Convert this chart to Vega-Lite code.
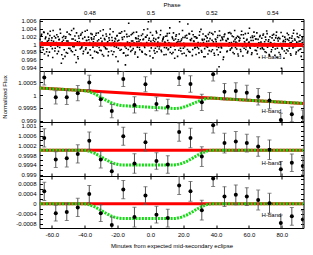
{
"$schema": "https://vega.github.io/schema/vega-lite/v6.json",
"padding": {"left": 0.5, "top": 1, "right": 4, "bottom": 4},
"bounds": "flush",
"spacing": 0,
"config": {
 "font": "Liberation Sans",
 "view": {"stroke": "black", "strokeWidth": 1},
 "axis": {"domain": false, "grid": false, "tickColor": "black", "tickSize": -3, "labelFontSize": 6, "labelColor": "black", "titleFontSize": 6, "titleFontWeight": "normal", "titleColor": "black", "labelPadding": 6.5, "labelFont": "Liberation Sans", "titleFont": "Liberation Sans"}
},
"datasets": {
 "scatter": [
  {"t":-67.2,"f":1.0012},{"t":-66.7,"f":0.9992},{"t":-66.2,"f":1.0025},{"t":-65.7,"f":1.0003},{"t":-65.2,"f":0.9985},{"t":-64.7,"f":1.003},{"t":-64.2,"f":0.9998},{"t":-63.7,"f":1.0018},{"t":-63.2,"f":0.998},{"t":-62.7,"f":1.0007},
  {"t":-62.2,"f":0.997},{"t":-61.7,"f":1.0014},{"t":-61.2,"f":1.0022},{"t":-60.7,"f":0.9995},{"t":-60.2,"f":1.0009},{"t":-59.7,"f":0.9988},{"t":-59.2,"f":1.0035},{"t":-58.7,"f":1.0001},{"t":-58.2,"f":0.9982},{"t":-57.7,"f":1.0016},
  {"t":-57.2,"f":1.0004},{"t":-56.7,"f":0.9975},{"t":-56.2,"f":1.0019},{"t":-55.7,"f":1.0011},{"t":-55.2,"f":0.9991},{"t":-54.7,"f":1.0028},{"t":-54.2,"f":0.995},{"t":-53.7,"f":1.0006},{"t":-53.2,"f":0.9962},{"t":-52.7,"f":1.002},
  {"t":-52.2,"f":0.9997},{"t":-51.7,"f":1.0015},{"t":-51.2,"f":0.9978},{"t":-50.7,"f":1.0031},{"t":-50.2,"f":1.0008},{"t":-49.7,"f":0.9989},{"t":-49.2,"f":1.0002},{"t":-48.7,"f":1.0024},{"t":-48.2,"f":0.9983},{"t":-47.7,"f":1.0013},
  {"t":-47.2,"f":0.9994},{"t":-46.7,"f":1.004},{"t":-46.2,"f":0.9972},{"t":-45.7,"f":1.001},{"t":-45.2,"f":0.9952},{"t":-44.7,"f":0.9999},{"t":-44.2,"f":0.9967},{"t":-43.7,"f":1.0021},{"t":-43.2,"f":1.0005},{"t":-42.7,"f":0.9987},
  {"t":-42.2,"f":1.0026},{"t":-41.7,"f":0.9993},{"t":-41.2,"f":1.0014},{"t":-40.7,"f":0.9981},{"t":-40.2,"f":1.0003},{"t":-39.7,"f":1.0033},{"t":-39.2,"f":0.999},{"t":-38.7,"f":1.0009},{"t":-38.2,"f":0.9976},{"t":-37.7,"f":1.0018},
  {"t":-37.2,"f":1.0},{"t":-36.7,"f":0.9985},{"t":-36.2,"f":1.0027},{"t":-35.7,"f":1.0012},{"t":-35.2,"f":0.9964},{"t":-34.7,"f":1.0006},{"t":-34.2,"f":1.0019},{"t":-33.7,"f":0.9996},{"t":-33.2,"f":1.0023},{"t":-32.7,"f":0.9979},
  {"t":-32.2,"f":1.0008},{"t":-31.7,"f":1.0029},{"t":-31.2,"f":0.9991},{"t":-30.7,"f":0.9984},{"t":-30.2,"f":1.0015},{"t":-29.7,"f":1.0002},{"t":-29.2,"f":0.9973},{"t":-28.7,"f":1.0037},{"t":-28.2,"f":0.9994},{"t":-27.7,"f":1.0011},
  {"t":-27.2,"f":0.9988},{"t":-26.7,"f":1.002},{"t":-26.2,"f":1.0004},{"t":-25.7,"f":0.997},{"t":-25.2,"f":1.0016},{"t":-24.7,"f":1.0025},{"t":-24.2,"f":0.9997},{"t":-23.7,"f":0.9982},{"t":-23.2,"f":1.0009},{"t":-22.7,"f":1.0032},
  {"t":-22.2,"f":0.998},{"t":-21.7,"f":1.0007},{"t":-21.2,"f":1.0013},{"t":-20.7,"f":0.9992},{"t":-20.2,"f":1.0022},{"t":-19.7,"f":0.9955},{"t":-19.2,"f":1.001},{"t":-18.7,"f":1.0001},{"t":-18.2,"f":1.0028},{"t":-17.7,"f":0.9986},
  {"t":-17.2,"f":1.0017},{"t":-16.7,"f":0.9998},{"t":-16.2,"f":0.9977},{"t":-15.7,"f":1.0034},{"t":-15.2,"f":0.9946},{"t":-14.7,"f":0.9989},{"t":-14.2,"f":1.0019},{"t":-13.7,"f":0.9971},{"t":-13.2,"f":1.0054},{"t":-12.7,"f":1.0003},
  {"t":-12.2,"f":0.9993},{"t":-11.7,"f":1.0024},{"t":-11.2,"f":0.9984},{"t":-10.7,"f":1.0008},{"t":-10.2,"f":1.003},{"t":-9.7,"f":0.9999},{"t":-9.2,"f":0.9979},{"t":-8.7,"f":1.0014},{"t":-8.2,"f":1.0006},{"t":-7.7,"f":0.9966},
  {"t":-7.2,"f":1.0021},{"t":-6.7,"f":0.9991},{"t":-6.2,"f":1.0011},{"t":-5.7,"f":1.0002},{"t":-5.2,"f":0.9981},{"t":-4.7,"f":1.0026},{"t":-4.2,"f":1.0013},{"t":-3.7,"f":0.9995},{"t":-3.2,"f":0.9974},{"t":-2.7,"f":1.0018},
  {"t":-2.2,"f":1.0004},{"t":-1.7,"f":1.0039},{"t":-1.2,"f":1.0058},{"t":-0.7,"f":1.0015},{"t":-0.2,"f":0.9969},{"t":0.3,"f":1.0007},{"t":0.8,"f":0.9997},{"t":1.3,"f":1.0023},{"t":1.8,"f":1.001},{"t":2.3,"f":0.9983},
  {"t":2.8,"f":0.9976},{"t":3.3,"f":1.0012},{"t":3.8,"f":1.0029},{"t":4.3,"f":0.9994},{"t":4.8,"f":1.0016},{"t":5.3,"f":0.9987},{"t":5.8,"f":1.0001},{"t":6.3,"f":1.0035},{"t":6.8,"f":0.998},{"t":7.3,"f":1.0008},
  {"t":7.8,"f":1.0014},{"t":8.3,"f":0.9972},{"t":8.8,"f":1.0005},{"t":9.3,"f":1.002},{"t":9.8,"f":0.999},{"t":10.3,"f":1.0027},{"t":10.8,"f":0.9985},{"t":11.3,"f":1.0003},{"t":11.8,"f":1.0042},{"t":12.3,"f":0.9992},
  {"t":12.8,"f":0.9999},{"t":13.3,"f":1.0018},{"t":13.8,"f":0.9978},{"t":14.3,"f":1.001},{"t":14.8,"f":0.9963},{"t":15.3,"f":1.0013},{"t":15.8,"f":1.0024},{"t":16.3,"f":0.9996},{"t":16.8,"f":1.0006},{"t":17.3,"f":0.9984},
  {"t":17.8,"f":1.0058},{"t":18.3,"f":0.9989},{"t":18.8,"f":1.0009},{"t":19.3,"f":0.9975},{"t":19.8,"f":1.0017},{"t":20.3,"f":1.0002},{"t":20.8,"f":0.9993},{"t":21.3,"f":1.0021},{"t":21.8,"f":0.997},{"t":22.3,"f":1.0015},
  {"t":22.8,"f":1.0052},{"t":23.3,"f":0.9981},{"t":23.8,"f":1.0026},{"t":24.3,"f":1.0011},{"t":24.8,"f":0.9997},{"t":25.3,"f":1.0033},{"t":25.8,"f":0.9986},{"t":26.3,"f":1.0008},{"t":26.8,"f":1.0019},{"t":27.3,"f":0.9991},
  {"t":27.8,"f":0.9973},{"t":28.3,"f":1.0016},{"t":28.8,"f":1.0001},{"t":29.3,"f":0.9988},{"t":29.8,"f":1.0023},{"t":30.3,"f":0.9995},{"t":30.8,"f":1.0038},{"t":31.3,"f":0.9979},{"t":31.8,"f":1.001},{"t":32.3,"f":1.0004},
  {"t":32.8,"f":1.0012},{"t":33.3,"f":0.9967},{"t":33.8,"f":1.002},{"t":34.3,"f":1.0007},{"t":34.8,"f":0.9992},{"t":35.3,"f":1.0025},{"t":35.8,"f":0.9983},{"t":36.3,"f":1.0014},{"t":36.8,"f":0.9998},{"t":37.3,"f":1.0028},
  {"t":37.8,"f":0.9985},{"t":38.3,"f":1.0006},{"t":38.8,"f":0.9976},{"t":39.3,"f":1.0032},{"t":39.8,"f":1.0011},{"t":40.3,"f":0.9994},{"t":40.8,"f":1.0017},{"t":41.3,"f":0.9972},{"t":41.8,"f":0.9941},{"t":42.3,"f":1.0022},
  {"t":42.8,"f":1.0009},{"t":43.3,"f":0.999},{"t":43.8,"f":1.0014},{"t":44.3,"f":0.996},{"t":44.8,"f":1.0019},{"t":45.3,"f":1.0026},{"t":45.8,"f":0.9997},{"t":46.3,"f":1.0008},{"t":46.8,"f":0.9982},{"t":47.3,"f":1.0013},
  {"t":47.8,"f":0.9995},{"t":48.3,"f":1.003},{"t":48.8,"f":0.9987},{"t":49.3,"f":1.0004},{"t":49.8,"f":1.0021},{"t":50.3,"f":0.9978},{"t":50.8,"f":1.0007},{"t":51.3,"f":1.0035},{"t":51.8,"f":0.9991},{"t":52.3,"f":1.0016},
  {"t":52.8,"f":1.0002},{"t":53.3,"f":0.9974},{"t":53.8,"f":1.0018},{"t":54.3,"f":1.001},{"t":54.8,"f":0.9986},{"t":55.3,"f":1.0024},{"t":55.8,"f":0.9999},{"t":56.3,"f":0.9969},{"t":56.8,"f":1.0015},{"t":57.3,"f":1.0006},
  {"t":57.8,"f":1.0027},{"t":58.3,"f":0.9993},{"t":58.8,"f":1.0012},{"t":59.3,"f":0.9981},{"t":59.8,"f":1.0003},{"t":60.3,"f":1.0041},{"t":60.8,"f":0.9989},{"t":61.3,"f":1.0009},{"t":61.8,"f":0.9977},{"t":62.3,"f":1.0017},
  {"t":62.8,"f":0.9996},{"t":63.3,"f":1.002},{"t":63.8,"f":0.9984},{"t":64.3,"f":1.0013},{"t":64.8,"f":1.0029},{"t":65.3,"f":0.9991},{"t":65.8,"f":1.0001},{"t":66.3,"f":0.9965},{"t":66.8,"f":1.0022},{"t":67.3,"f":1.0005},
  {"t":67.8,"f":1.0015},{"t":68.3,"f":0.9988},{"t":68.8,"f":1.0026},{"t":69.3,"f":0.9998},{"t":69.8,"f":0.998},{"t":70.3,"f":1.0011},{"t":70.8,"f":1.0034},{"t":71.3,"f":0.9992},{"t":71.8,"f":1.0007},{"t":72.3,"f":0.9973},
  {"t":72.8,"f":1.0019},{"t":73.3,"f":1.0003},{"t":73.8,"f":0.9985},{"t":74.3,"f":1.0023},{"t":74.8,"f":0.9994},{"t":75.3,"f":1.001},{"t":75.8,"f":0.9971},{"t":76.3,"f":1.0016},{"t":76.8,"f":1.0031},{"t":77.3,"f":0.9989},
  {"t":77.8,"f":1.0008},{"t":78.3,"f":0.9978},{"t":78.8,"f":1.0014},{"t":79.3,"f":1.0001},{"t":79.8,"f":0.9937},{"t":80.3,"f":0.9987},{"t":80.8,"f":1.0006},{"t":81.3,"f":0.9963},{"t":81.8,"f":1.0018},{"t":82.3,"f":1.0012},
  {"t":82.8,"f":0.9997},{"t":83.3,"f":1.0028},{"t":83.8,"f":0.9982},{"t":84.3,"f":1.0009},{"t":84.8,"f":1.0016},{"t":85.3,"f":0.9975},{"t":85.8,"f":1.0004},{"t":86.3,"f":1.0021},{"t":86.8,"f":0.999},{"t":87.3,"f":1.0036},
  {"t":87.8,"f":1.0013},{"t":88.3,"f":0.9994},{"t":88.8,"f":0.9979},{"t":89.3,"f":1.0027},{"t":89.8,"f":1.0002},{"t":90.3,"f":1.0017},{"t":90.8,"f":0.9986},{"t":91.3,"f":1.0008},{"t":91.8,"f":0.9968},{"t":92.3,"f":1.0011},
  {"t":92.8,"f":1.0004},
  {"t":-66.95,"f":0.9982},{"t":-66.45,"f":1.0022},{"t":-65.95,"f":1.0005},{"t":-65.45,"f":0.9991},{"t":-64.95,"f":1.0031},{"t":-64.45,"f":0.9974},{"t":-63.95,"f":1.0014},{"t":-63.45,"f":1.0002},{"t":-62.95,"f":0.9987},{"t":-62.45,"f":1.0027},
  {"t":-61.95,"f":1.0009},{"t":-61.45,"f":0.9979},{"t":-60.95,"f":1.0033},{"t":-60.45,"f":0.9996},{"t":-59.95,"f":1.0016},{"t":-59.45,"f":0.9965},{"t":-58.95,"f":1.0007},{"t":-58.45,"f":1.002},{"t":-57.95,"f":0.9989},{"t":-57.45,"f":1.0003},
  {"t":-56.95,"f":1.0024},{"t":-56.45,"f":0.9994},{"t":-55.95,"f":0.9981},{"t":-55.45,"f":1.0012},{"t":-54.95,"f":1.0038},{"t":-54.45,"f":0.9998},{"t":-53.95,"f":0.9972},{"t":-53.45,"f":1.0017},{"t":-52.95,"f":1.001},{"t":-52.45,"f":0.9985},
  {"t":-51.95,"f":0.9968},{"t":-51.45,"f":1.0019},{"t":-50.95,"f":1.0008},{"t":-50.45,"f":0.9976},{"t":-49.95,"f":1.0004},{"t":-49.45,"f":1.0026},{"t":-48.95,"f":0.9988},{"t":-48.45,"f":0.9999},{"t":-47.95,"f":1.0035},{"t":-47.45,"f":0.998},
  {"t":-46.95,"f":1.0013},{"t":-46.45,"f":0.9993},{"t":-45.95,"f":1.0021},{"t":-45.45,"f":0.9984},{"t":-44.95,"f":1.0029},{"t":-44.45,"f":1.0006},{"t":-43.95,"f":0.9962},{"t":-43.45,"f":1.0015},{"t":-42.95,"f":0.9997},{"t":-42.45,"f":1.0023},
  {"t":-41.95,"f":0.999},{"t":-41.45,"f":1.003},{"t":-40.95,"f":0.9975},{"t":-40.45,"f":1.0001},{"t":-39.95,"f":1.0018},{"t":-39.45,"f":0.9986},{"t":-38.95,"f":1.0009},{"t":-38.45,"f":1.0036},{"t":-37.95,"f":0.9978},{"t":-37.45,"f":1.0011},
  {"t":-36.95,"f":1.0004},{"t":-36.45,"f":0.9971},{"t":-35.95,"f":1.0016},{"t":-35.45,"f":1.0025},{"t":-34.95,"f":0.9992},{"t":-34.45,"f":1.0013},{"t":-33.95,"f":0.9981},{"t":-33.45,"f":1.0002},{"t":-32.95,"f":1.0028},{"t":-32.45,"f":0.9995},
  {"t":-31.95,"f":0.9977},{"t":-31.45,"f":1.0011},{"t":-30.95,"f":0.9998},{"t":-30.45,"f":1.0034},{"t":-29.95,"f":0.9983},{"t":-29.45,"f":1.0007},{"t":-28.95,"f":1.0022},{"t":-28.45,"f":0.9969},{"t":-27.95,"f":1.0014},{"t":-27.45,"f":0.9991},
  {"t":-26.95,"f":1.0026},{"t":-26.45,"f":0.9987},{"t":-25.95,"f":1.0006},{"t":-25.45,"f":0.998},{"t":-24.95,"f":1.001},{"t":-24.45,"f":1.0039},{"t":-23.95,"f":0.9996},{"t":-23.45,"f":1.0017},{"t":-22.95,"f":0.9973},{"t":-22.45,"f":1.0003},
  {"t":-21.95,"f":0.9994},{"t":-21.45,"f":1.0015},{"t":-20.95,"f":0.9967},{"t":-20.45,"f":1.0021},{"t":-19.95,"f":1.0008},{"t":-19.45,"f":0.9989},{"t":-18.95,"f":1.0028},{"t":-18.45,"f":0.9984},{"t":-17.95,"f":1.0001},{"t":-17.45,"f":1.0032},
  {"t":-16.95,"f":1.0012},{"t":-16.45,"f":0.9976},{"t":-15.95,"f":1.0019},{"t":-15.45,"f":0.9993},{"t":-14.95,"f":0.997},{"t":-14.45,"f":1.0025},{"t":-13.95,"f":1.0005},{"t":-13.45,"f":0.9986},{"t":-12.95,"f":1.002},{"t":-12.45,"f":0.9999},
  {"t":-11.95,"f":0.9981},{"t":-11.45,"f":1.0008},{"t":-10.95,"f":1.0027},{"t":-10.45,"f":0.9988},{"t":-9.95,"f":1.0003},{"t":-9.45,"f":0.9974},{"t":-8.95,"f":1.0016},{"t":-8.45,"f":1.0031},{"t":-7.95,"f":0.9992},{"t":-7.45,"f":1.0014},
  {"t":-6.95,"f":1.0007},{"t":-6.45,"f":0.9985},{"t":-5.95,"f":0.9997},{"t":-5.45,"f":1.0022},{"t":-4.95,"f":0.9979},{"t":-4.45,"f":1.0011},{"t":-3.95,"f":1.0037},{"t":-3.45,"f":0.9991},{"t":-2.95,"f":1.0018},{"t":-2.45,"f":0.9972},
  {"t":-1.95,"f":1.0023},{"t":-1.45,"f":0.9996},{"t":-0.95,"f":1.001},{"t":-0.45,"f":0.9982},{"t":0.05,"f":1.003},{"t":0.55,"f":0.999},{"t":1.05,"f":1.0002},{"t":1.55,"f":0.9964},{"t":2.05,"f":1.0015},{"t":2.55,"f":1.0006},
  {"t":3.05,"f":0.9989},{"t":3.55,"f":1.0033},{"t":4.05,"f":0.998},{"t":4.55,"f":1.0005},{"t":5.05,"f":1.0017},{"t":5.55,"f":0.9993},{"t":6.05,"f":1.0024},{"t":6.55,"f":0.9984},{"t":7.05,"f":0.9998},{"t":7.55,"f":1.0012},
  {"t":8.05,"f":1.0018},{"t":8.55,"f":0.9991},{"t":9.05,"f":1.0003},{"t":9.55,"f":0.9973},{"t":10.05,"f":1.0021},{"t":10.55,"f":1.0009},{"t":11.05,"f":0.9987},{"t":11.55,"f":1.0028},{"t":12.05,"f":0.9978},{"t":12.55,"f":1.0001},
  {"t":13.05,"f":0.9975},{"t":13.55,"f":1.0014},{"t":14.05,"f":1.0029},{"t":14.55,"f":0.9995},{"t":15.05,"f":0.9985},{"t":15.55,"f":1.002},{"t":16.05,"f":1.0004},{"t":16.55,"f":0.9968},{"t":17.05,"f":1.0011},{"t":17.55,"f":1.0026},
  {"t":18.05,"f":1.0006},{"t":18.55,"f":0.9982},{"t":19.05,"f":1.0013},{"t":19.55,"f":1.0035},{"t":20.05,"f":0.9989},{"t":20.55,"f":0.9976},{"t":21.05,"f":1.0017},{"t":21.55,"f":1.0},{"t":22.05,"f":1.0023},{"t":22.55,"f":0.9986},
  {"t":23.05,"f":0.9997},{"t":23.55,"f":1.0027},{"t":24.05,"f":0.9979},{"t":24.55,"f":1.0009},{"t":25.05,"f":1.0014},{"t":25.55,"f":0.997},{"t":26.05,"f":1.0024},{"t":26.55,"f":1.0007},{"t":27.05,"f":0.999},{"t":27.55,"f":1.0019},
  {"t":28.05,"f":1.0015},{"t":28.55,"f":0.9992},{"t":29.05,"f":1.0004},{"t":29.55,"f":0.9977},{"t":30.05,"f":1.0032},{"t":30.55,"f":1.0002},{"t":31.05,"f":0.9983},{"t":31.55,"f":1.0012},{"t":32.05,"f":1.0026},{"t":32.55,"f":0.9967},
  {"t":33.05,"f":0.9988},{"t":33.55,"f":1.0021},{"t":34.05,"f":0.9994},{"t":34.55,"f":1.0016},{"t":35.05,"f":0.9974},{"t":35.55,"f":1.0008},{"t":36.05,"f":1.003},{"t":36.55,"f":0.9996},{"t":37.05,"f":0.9981},{"t":37.55,"f":1.001},
  {"t":38.05,"f":1.0025},{"t":38.55,"f":1.0001},{"t":39.05,"f":0.9971},{"t":39.55,"f":1.0013},{"t":40.05,"f":1.0006},{"t":40.55,"f":0.9985},{"t":41.05,"f":1.0022},{"t":41.55,"f":0.9991},{"t":42.05,"f":1.0034},{"t":42.55,"f":0.9979},
  {"t":43.05,"f":0.9993},{"t":43.55,"f":1.0018},{"t":44.05,"f":1.0011},{"t":44.55,"f":0.9966},{"t":45.05,"f":1.0024},{"t":45.55,"f":0.9997},{"t":46.05,"f":1.0009},{"t":46.55,"f":0.998},{"t":47.05,"f":1.0014},{"t":47.55,"f":1.0029},
  {"t":48.05,"f":1.0003},{"t":48.55,"f":0.9984},{"t":49.05,"f":1.0027},{"t":49.55,"f":0.999},{"t":50.05,"f":0.9998},{"t":50.55,"f":1.0019},{"t":51.05,"f":0.9975},{"t":51.55,"f":1.0012},{"t":52.05,"f":1.0005},{"t":52.55,"f":0.9987},
  {"t":53.05,"f":1.002},{"t":53.55,"f":0.9969},{"t":54.05,"f":1.0008},{"t":54.55,"f":1.0015},{"t":55.05,"f":0.9981},{"t":55.55,"f":1.0033},{"t":56.05,"f":0.9994},{"t":56.55,"f":1.0024},{"t":57.05,"f":0.9989},{"t":57.55,"f":1.0002},
  {"t":58.05,"f":0.9986},{"t":58.55,"f":1.001},{"t":59.05,"f":0.9977},{"t":59.55,"f":1.0028},{"t":60.05,"f":1.0005},{"t":60.55,"f":0.9992},{"t":61.05,"f":1.0017},{"t":61.55,"f":0.9973},{"t":62.05,"f":1.0021},{"t":62.55,"f":1.0009},
  {"t":63.05,"f":1.0031},{"t":63.55,"f":0.9995},{"t":64.05,"f":1.0013},{"t":64.55,"f":0.9983},{"t":65.05,"f":0.9974},{"t":65.55,"f":1.0012},{"t":66.05,"f":1.0003},{"t":66.55,"f":1.0019},{"t":67.05,"f":0.9988},{"t":67.55,"f":0.9999},
  {"t":68.05,"f":0.9991},{"t":68.55,"f":1.0023},{"t":69.05,"f":0.9986},{"t":69.55,"f":1.0006},{"t":70.05,"f":1.0018},{"t":70.55,"f":0.9978},{"t":71.05,"f":1.0027},{"t":71.55,"f":0.9997},{"t":72.05,"f":1.0011},{"t":72.55,"f":0.997},
  {"t":73.05,"f":1.0004},{"t":73.55,"f":0.998},{"t":74.05,"f":1.0016},{"t":74.55,"f":0.9992},{"t":75.05,"f":1.0025},{"t":75.55,"f":1.0001},{"t":76.05,"f":0.9987},{"t":76.55,"f":1.0022},{"t":77.05,"f":0.9965},{"t":77.55,"f":1.0014},
  {"t":78.05,"f":1.0017},{"t":78.55,"f":0.9998},{"t":79.05,"f":0.9973},{"t":79.55,"f":1.003},{"t":80.05,"f":0.999},{"t":80.55,"f":1.002},{"t":81.05,"f":1.0009},{"t":81.55,"f":0.9982},{"t":82.05,"f":1.0006},{"t":82.55,"f":0.9976},
  {"t":83.05,"f":0.9985},{"t":83.55,"f":1.0012},{"t":84.05,"f":1.0024},{"t":84.55,"f":0.9989},{"t":85.05,"f":1.0003},{"t":85.55,"f":0.9971},{"t":86.05,"f":1.0015},{"t":86.55,"f":1.0008},{"t":87.05,"f":1.0028},{"t":87.55,"f":0.9994},
  {"t":88.05,"f":1.001},{"t":88.55,"f":0.9974},{"t":89.05,"f":1.0005},{"t":89.55,"f":1.0019},{"t":90.05,"f":0.9983},{"t":90.55,"f":1.0007},{"t":91.05,"f":1.0023},{"t":91.55,"f":0.9987},{"t":92.05,"f":1.0002},{"t":92.55,"f":1.0016},
  {"t":93.05,"f":0.9993}
 ],
 "red1": [{"t":-67.5,"v":1.0},{"t":93.2,"v":0.99975}],
 "red2": [{"t":-67.5,"v":1.00028},{"t":93.2,"v":0.99968}],
 "red3": [{"t":-67.5,"v":1.0},{"t":93.2,"v":1.0}],
 "red4": [{"t":-67.5,"v":0.0},{"t":93.2,"v":0.0}],
 "g2": [{"t":-67.5,"v":1.00028},{"t":-40,"v":1.00018},{"t":-37,"v":1.00014},{"t":-34,"v":1.00006},{"t":-31,"v":0.99995},{"t":-28,"v":0.99984},{"t":-25,"v":0.99974},{"t":-22,"v":0.99966},{"t":-19,"v":0.99961},{"t":-17,"v":0.99959},{"t":14,"v":0.99948},{"t":16,"v":0.99948},{"t":19,"v":0.99951},{"t":22,"v":0.99957},{"t":25,"v":0.99965},{"t":28,"v":0.99973},{"t":31,"v":0.99981},{"t":34,"v":0.99987},{"t":37,"v":0.99989},{"t":93.2,"v":0.99968}],
 "g3": [{"t":-67.5,"v":1.0},{"t":-40,"v":1.0},{"t":-37,"v":0.99996},{"t":-34,"v":0.99988},{"t":-31,"v":0.99977},{"t":-28,"v":0.99965},{"t":-25,"v":0.99954},{"t":-22,"v":0.99946},{"t":-19,"v":0.99941},{"t":-17,"v":0.9994},{"t":14,"v":0.9994},{"t":16,"v":0.99941},{"t":19,"v":0.99946},{"t":22,"v":0.99954},{"t":25,"v":0.99965},{"t":28,"v":0.99977},{"t":31,"v":0.99988},{"t":34,"v":0.99996},{"t":37,"v":1.0},{"t":93.2,"v":1.0}],
 "g4": [{"t":-67.5,"v":0},{"t":-40,"v":0},{"t":-37,"v":-0.00004},{"t":-34,"v":-0.00012},{"t":-31,"v":-0.00023},{"t":-28,"v":-0.00035},{"t":-25,"v":-0.00046},{"t":-22,"v":-0.00054},{"t":-19,"v":-0.00059},{"t":-17,"v":-0.0006},{"t":14,"v":-0.0006},{"t":16,"v":-0.00059},{"t":19,"v":-0.00054},{"t":22,"v":-0.00046},{"t":25,"v":-0.00035},{"t":28,"v":-0.00023},{"t":31,"v":-0.00012},{"t":34,"v":-0.00004},{"t":37,"v":0},{"t":93.2,"v":0}],
 "p2": [
  {"t":-64.6,"v":1.0007,"e":0.0003},{"t":-57.6,"v":0.99992,"e":0.00026},{"t":-50.9,"v":0.99992,"e":0.00028},{"t":-44.2,"v":1.00008,"e":0.0003},{"t":-37.2,"v":1.0005,"e":0.00028},{"t":-30.2,"v":0.99984,"e":0.00027},{"t":-23.5,"v":0.99938,"e":0.00026},{"t":-16.5,"v":1.00064,"e":0.0003},{"t":-9.7,"v":0.99962,"e":0.00032},{"t":-3.0,"v":1.00043,"e":0.00029},{"t":3.7,"v":0.99966,"e":0.00027},{"t":10.6,"v":0.99955,"e":0.00029},
  {"t":17.5,"v":1.00068,"e":0.0003},{"t":24.4,"v":1.00044,"e":0.00032},{"t":31.3,"v":0.99972,"e":0.00032},{"t":38.2,"v":1.00082,"e":0.00026},{"t":45.1,"v":1.00014,"e":0.00032},{"t":52.0,"v":1.00017,"e":0.00032},{"t":58.7,"v":1.0001,"e":0.00029},{"t":65.6,"v":0.99994,"e":0.00032},{"t":72.5,"v":0.99979,"e":0.00032},{"t":79.4,"v":0.99903,"e":0.00026},{"t":86.1,"v":0.99925,"e":0.00029},{"t":92.8,"v":0.99913,"e":0.00029}
 ],
 "p3": [
  {"t":-64.6,"v":1.0005,"e":0.00037},{"t":-57.6,"v":0.99962,"e":0.00032},{"t":-50.9,"v":0.99967,"e":0.00035},{"t":-44.2,"v":0.99985,"e":0.00037},{"t":-37.2,"v":1.00039,"e":0.00035},{"t":-30.2,"v":0.99962,"e":0.00034},{"t":-23.5,"v":0.99914,"e":0.00032},{"t":-16.5,"v":1.00057,"e":0.00037},{"t":-9.7,"v":0.99946,"e":0.0004},{"t":-3.0,"v":1.00033,"e":0.00036},{"t":3.7,"v":0.99956,"e":0.00034},{"t":10.6,"v":0.99942,"e":0.00036},
  {"t":17.5,"v":1.00074,"e":0.00037},{"t":24.4,"v":1.0005,"e":0.0004},{"t":31.3,"v":0.99974,"e":0.0004},{"t":38.2,"v":1.00102,"e":0.00032},{"t":45.1,"v":1.00029,"e":0.0004},{"t":52.0,"v":1.00036,"e":0.0004},{"t":58.7,"v":1.00029,"e":0.00036},{"t":65.6,"v":1.00015,"e":0.0004},{"t":72.5,"v":1.00002,"e":0.0004},{"t":79.4,"v":0.99922,"e":0.00032},{"t":86.1,"v":0.99949,"e":0.00036},{"t":92.8,"v":0.99936,"e":0.00036}
 ],
 "p4": [
  {"t":-64.6,"v":0.0005,"e":0.00037},{"t":-57.6,"v":-0.00038,"e":0.00032},{"t":-50.9,"v":-0.00033,"e":0.00035},{"t":-44.2,"v":-0.00015,"e":0.00037},{"t":-37.2,"v":0.00039,"e":0.00035},{"t":-30.2,"v":-0.00038,"e":0.00034},{"t":-23.5,"v":-0.00086,"e":0.00032},{"t":-16.5,"v":0.00057,"e":0.00037},{"t":-9.7,"v":-0.00054,"e":0.0004},{"t":-3.0,"v":0.00033,"e":0.00036},{"t":3.7,"v":-0.00044,"e":0.00034},{"t":10.6,"v":-0.00058,"e":0.00036},
  {"t":17.5,"v":0.00074,"e":0.00037},{"t":24.4,"v":0.0005,"e":0.0004},{"t":31.3,"v":-0.00026,"e":0.0004},{"t":38.2,"v":0.00102,"e":0.00032},{"t":45.1,"v":0.00029,"e":0.0004},{"t":52.0,"v":0.00036,"e":0.0004},{"t":58.7,"v":0.00029,"e":0.00036},{"t":65.6,"v":0.00015,"e":0.0004},{"t":72.5,"v":0.00002,"e":0.0004},{"t":79.4,"v":-0.00078,"e":0.00032},{"t":86.1,"v":-0.00051,"e":0.00036},{"t":92.8,"v":-0.00064,"e":0.00036}
 ],
 "lab": [{"panel":1,"t":73.7,"v":0.99656,"s":"H-band"},{"panel":2,"t":73.7,"v":0.99939,"s":"H-band"},{"panel":3,"t":73.7,"v":0.99947,"s":"H-band"},{"panel":4,"t":73.7,"v":-0.00046,"s":"H-band"}]
},
"resolve": {"scale": {"x": "independent", "y": "independent"}},
"vconcat": [
 {
  "width": 264, "height": 52,
  "resolve": {"scale": {"x": "independent"}},
  "layer": [
   {
    "resolve": {"axis": {"x": "independent", "y": "independent"}},
    "layer": [
     {"data": {"name": "scatter"}, "mark": {"type": "square", "filled": true, "color": "black", "size": 2.5, "opacity": 1, "clip": true},
      "encoding": {
       "x": {"field": "t", "type": "quantitative", "scale": {"domain": [-67.5, 93.2], "nice": false, "zero": false}, "axis": {"orient": "bottom", "values": [-60,-40,-20,0,20,40,60,80], "labels": false, "title": null}},
       "y": {"field": "f", "type": "quantitative", "scale": {"domain": [0.993, 1.0065], "nice": false, "zero": false}, "axis": {"orient": "left", "values": [0.994,0.996,0.998,1,1.002,1.004,1.006], "format": "~g", "title": null}}
      }},
     {"data": {"name": "red1"}, "mark": {"type": "line", "color": "#ff0000", "strokeWidth": 4, "clip": true},
      "encoding": {
       "x": {"field": "t", "type": "quantitative", "scale": {"domain": [-67.5, 93.2], "nice": false, "zero": false}, "axis": null},
       "y": {"field": "v", "type": "quantitative", "scale": {"domain": [0.993, 1.0065], "nice": false, "zero": false}, "axis": null}
      }},
     {"data": {"name": "lab"}, "transform": [{"filter": "datum.panel == 1"}], "mark": {"type": "text", "fontSize": 6, "color": "black", "font": "Liberation Sans"},
      "encoding": {
       "x": {"field": "t", "type": "quantitative", "scale": {"domain": [-67.5, 93.2], "nice": false, "zero": false}, "axis": null},
       "y": {"field": "v", "type": "quantitative", "scale": {"domain": [0.993, 1.0065], "nice": false, "zero": false}, "axis": null},
       "text": {"field": "s"}
      }},
     {"data": {"name": "red1"}, "mark": {"type": "line", "opacity": 0},
      "encoding": {
       "x": {"field": "t", "type": "quantitative", "scale": {"domain": [-67.5, 93.2], "nice": false, "zero": false}, "axis": null},
       "y": {"field": "v", "type": "quantitative", "scale": {"domain": [0.993, 1.0065], "nice": false, "zero": false}, "axis": {"orient": "right", "values": [0.994,0.996,0.998,1,1.002,1.004,1.006], "labels": false, "title": null}}
      }}
    ]
   },
   {"data": {"values": [{"ph": 0.5}]}, "mark": {"type": "point", "opacity": 0},
    "encoding": {
     "x": {"field": "ph", "type": "quantitative", "scale": {"domain": [0.46364, 0.55021], "nice": false, "zero": false}, "axis": {"orient": "top", "values": [0.48, 0.5, 0.52, 0.54], "format": "~g", "title": "Phase", "titlePadding": 2}}
    }}
  ]
 },
 {
  "width": 264, "height": 51,
  "resolve": {"axis": {"x": "independent", "y": "independent"}},
  "layer": [
   {"data": {"name": "red2"}, "mark": {"type": "line", "color": "#ff0000", "strokeWidth": 3, "clip": true},
    "encoding": {
     "x": {"field": "t", "type": "quantitative", "scale": {"domain": [-67.5, 93.2], "nice": false, "zero": false}, "axis": {"orient": "bottom", "values": [-60,-40,-20,0,20,40,60,80], "labels": false, "title": null}},
     "y": {"field": "v", "type": "quantitative", "scale": {"domain": [0.99895, 1.00095], "nice": false, "zero": false}, "axis": {"orient": "left", "values": [0.999, 0.9995, 1, 1.0005], "format": "~g", "title": "Normalized Flux", "titlePadding": 10.5}}
    }},
   {"data": {"name": "g2"}, "mark": {"type": "line", "color": "#11dd11", "strokeWidth": 3, "strokeDash": [2, 1.2], "clip": true},
    "encoding": {
     "x": {"field": "t", "type": "quantitative", "scale": {"domain": [-67.5, 93.2], "nice": false, "zero": false}, "axis": null},
     "y": {"field": "v", "type": "quantitative", "scale": {"domain": [0.99895, 1.00095], "nice": false, "zero": false}, "axis": null}
    }},
   {"data": {"name": "p2"}, "mark": {"type": "errorbar", "ticks": {"size": 4}, "color": "#555555", "clip": true},
    "encoding": {
     "x": {"field": "t", "type": "quantitative", "scale": {"domain": [-67.5, 93.2], "nice": false, "zero": false}, "axis": null},
     "y": {"field": "v", "type": "quantitative", "scale": {"domain": [0.99895, 1.00095], "nice": false, "zero": false}, "axis": null},
     "yError": {"field": "e"}
    }},
   {"data": {"name": "p2"}, "mark": {"type": "circle", "color": "black", "size": 16, "opacity": 1, "clip": true},
    "encoding": {
     "x": {"field": "t", "type": "quantitative", "scale": {"domain": [-67.5, 93.2], "nice": false, "zero": false}, "axis": null},
     "y": {"field": "v", "type": "quantitative", "scale": {"domain": [0.99895, 1.00095], "nice": false, "zero": false}, "axis": null}
    }},
   {"data": {"name": "lab"}, "transform": [{"filter": "datum.panel == 2"}], "mark": {"type": "text", "fontSize": 6, "color": "black", "font": "Liberation Sans"},
    "encoding": {
     "x": {"field": "t", "type": "quantitative", "scale": {"domain": [-67.5, 93.2], "nice": false, "zero": false}, "axis": null},
     "y": {"field": "v", "type": "quantitative", "scale": {"domain": [0.99895, 1.00095], "nice": false, "zero": false}, "axis": null},
     "text": {"field": "s"}
    }},
   {"data": {"name": "red2"}, "mark": {"type": "line", "opacity": 0},
    "encoding": {
     "x": {"field": "t", "type": "quantitative", "scale": {"domain": [-67.5, 93.2], "nice": false, "zero": false}, "axis": {"orient": "top", "values": [-60,-40,-20,0,20,40,60,80], "labels": false, "title": null}},
     "y": {"field": "v", "type": "quantitative", "scale": {"domain": [0.99895, 1.00095], "nice": false, "zero": false}, "axis": {"orient": "right", "values": [0.999, 0.9995, 1, 1.0005], "labels": false, "title": null}}
    }}
  ]
 },
 {
  "width": 264, "height": 54,
  "resolve": {"axis": {"x": "independent", "y": "independent"}},
  "layer": [
   {"data": {"name": "red3"}, "mark": {"type": "line", "color": "#ff0000", "strokeWidth": 3, "clip": true},
    "encoding": {
     "x": {"field": "t", "type": "quantitative", "scale": {"domain": [-67.5, 93.2], "nice": false, "zero": false}, "axis": {"orient": "bottom", "values": [-60,-40,-20,0,20,40,60,80], "labels": false, "title": null}},
     "y": {"field": "v", "type": "quantitative", "scale": {"domain": [0.99895, 1.00115], "nice": false, "zero": false}, "axis": {"orient": "left", "values": [0.999,0.9992,0.9994,0.9996,0.9998,1,1.0002,1.0004,1.0006,1.0008,1.001], "format": "~g", "title": null}}
    }},
   {"data": {"name": "g3"}, "mark": {"type": "line", "color": "#11dd11", "strokeWidth": 3, "strokeDash": [2, 1.2], "clip": true},
    "encoding": {
     "x": {"field": "t", "type": "quantitative", "scale": {"domain": [-67.5, 93.2], "nice": false, "zero": false}, "axis": null},
     "y": {"field": "v", "type": "quantitative", "scale": {"domain": [0.99895, 1.00115], "nice": false, "zero": false}, "axis": null}
    }},
   {"data": {"name": "p3"}, "mark": {"type": "errorbar", "ticks": {"size": 4}, "color": "#555555", "clip": true},
    "encoding": {
     "x": {"field": "t", "type": "quantitative", "scale": {"domain": [-67.5, 93.2], "nice": false, "zero": false}, "axis": null},
     "y": {"field": "v", "type": "quantitative", "scale": {"domain": [0.99895, 1.00115], "nice": false, "zero": false}, "axis": null},
     "yError": {"field": "e"}
    }},
   {"data": {"name": "p3"}, "mark": {"type": "circle", "color": "black", "size": 16, "opacity": 1, "clip": true},
    "encoding": {
     "x": {"field": "t", "type": "quantitative", "scale": {"domain": [-67.5, 93.2], "nice": false, "zero": false}, "axis": null},
     "y": {"field": "v", "type": "quantitative", "scale": {"domain": [0.99895, 1.00115], "nice": false, "zero": false}, "axis": null}
    }},
   {"data": {"name": "lab"}, "transform": [{"filter": "datum.panel == 3"}], "mark": {"type": "text", "fontSize": 6, "color": "black", "font": "Liberation Sans"},
    "encoding": {
     "x": {"field": "t", "type": "quantitative", "scale": {"domain": [-67.5, 93.2], "nice": false, "zero": false}, "axis": null},
     "y": {"field": "v", "type": "quantitative", "scale": {"domain": [0.99895, 1.00115], "nice": false, "zero": false}, "axis": null},
     "text": {"field": "s"}
    }},
   {"data": {"name": "red3"}, "mark": {"type": "line", "opacity": 0},
    "encoding": {
     "x": {"field": "t", "type": "quantitative", "scale": {"domain": [-67.5, 93.2], "nice": false, "zero": false}, "axis": {"orient": "top", "values": [-60,-40,-20,0,20,40,60,80], "labels": false, "title": null}},
     "y": {"field": "v", "type": "quantitative", "scale": {"domain": [0.99895, 1.00115], "nice": false, "zero": false}, "axis": {"orient": "right", "values": [0.999,0.9992,0.9994,0.9996,0.9998,1,1.0002,1.0004,1.0006,1.0008,1.001], "labels": false, "title": null}}
    }}
  ]
 },
 {
  "width": 264, "height": 52,
  "resolve": {"axis": {"x": "independent", "y": "independent"}},
  "layer": [
   {"data": {"name": "red4"}, "mark": {"type": "line", "color": "#ff0000", "strokeWidth": 3, "clip": true},
    "encoding": {
     "x": {"field": "t", "type": "quantitative", "scale": {"domain": [-67.5, 93.2], "nice": false, "zero": false}, "axis": {"orient": "bottom", "values": [-60,-40,-20,0,20,40,60,80], "format": ".1f", "labelExpr": "replace(datum.label, '\u2212', '-')", "title": "Minutes from expected mid-secondary eclipse", "titlePadding": 4.5}},
     "y": {"field": "v", "type": "quantitative", "scale": {"domain": [-0.00098, 0.00112], "nice": false, "zero": false}, "axis": {"orient": "left", "values": [-0.0008,-0.0006,-0.0004,-0.0002,0,0.0002,0.0004,0.0006,0.0008,0.001], "format": "~g", "labelExpr": "replace(datum.label, '\u2212', '-')", "title": null}}
    }},
   {"data": {"name": "g4"}, "mark": {"type": "line", "color": "#11dd11", "strokeWidth": 3, "strokeDash": [2, 1.2], "clip": true},
    "encoding": {
     "x": {"field": "t", "type": "quantitative", "scale": {"domain": [-67.5, 93.2], "nice": false, "zero": false}, "axis": null},
     "y": {"field": "v", "type": "quantitative", "scale": {"domain": [-0.00098, 0.00112], "nice": false, "zero": false}, "axis": null}
    }},
   {"data": {"name": "p4"}, "mark": {"type": "errorbar", "ticks": {"size": 4}, "color": "#555555", "clip": true},
    "encoding": {
     "x": {"field": "t", "type": "quantitative", "scale": {"domain": [-67.5, 93.2], "nice": false, "zero": false}, "axis": null},
     "y": {"field": "v", "type": "quantitative", "scale": {"domain": [-0.00098, 0.00112], "nice": false, "zero": false}, "axis": null},
     "yError": {"field": "e"}
    }},
   {"data": {"name": "p4"}, "mark": {"type": "circle", "color": "black", "size": 16, "opacity": 1, "clip": true},
    "encoding": {
     "x": {"field": "t", "type": "quantitative", "scale": {"domain": [-67.5, 93.2], "nice": false, "zero": false}, "axis": null},
     "y": {"field": "v", "type": "quantitative", "scale": {"domain": [-0.00098, 0.00112], "nice": false, "zero": false}, "axis": null}
    }},
   {"data": {"name": "lab"}, "transform": [{"filter": "datum.panel == 4"}], "mark": {"type": "text", "fontSize": 6, "color": "black", "font": "Liberation Sans"},
    "encoding": {
     "x": {"field": "t", "type": "quantitative", "scale": {"domain": [-67.5, 93.2], "nice": false, "zero": false}, "axis": null},
     "y": {"field": "v", "type": "quantitative", "scale": {"domain": [-0.00098, 0.00112], "nice": false, "zero": false}, "axis": null},
     "text": {"field": "s"}
    }},
   {"data": {"name": "red4"}, "mark": {"type": "line", "opacity": 0},
    "encoding": {
     "x": {"field": "t", "type": "quantitative", "scale": {"domain": [-67.5, 93.2], "nice": false, "zero": false}, "axis": {"orient": "top", "values": [-60,-40,-20,0,20,40,60,80], "labels": false, "title": null}},
     "y": {"field": "v", "type": "quantitative", "scale": {"domain": [-0.00098, 0.00112], "nice": false, "zero": false}, "axis": {"orient": "right", "values": [-0.0008,-0.0006,-0.0004,-0.0002,0,0.0002,0.0004,0.0006,0.0008,0.001], "labels": false, "title": null}}
    }}
  ]
 }
]
}
